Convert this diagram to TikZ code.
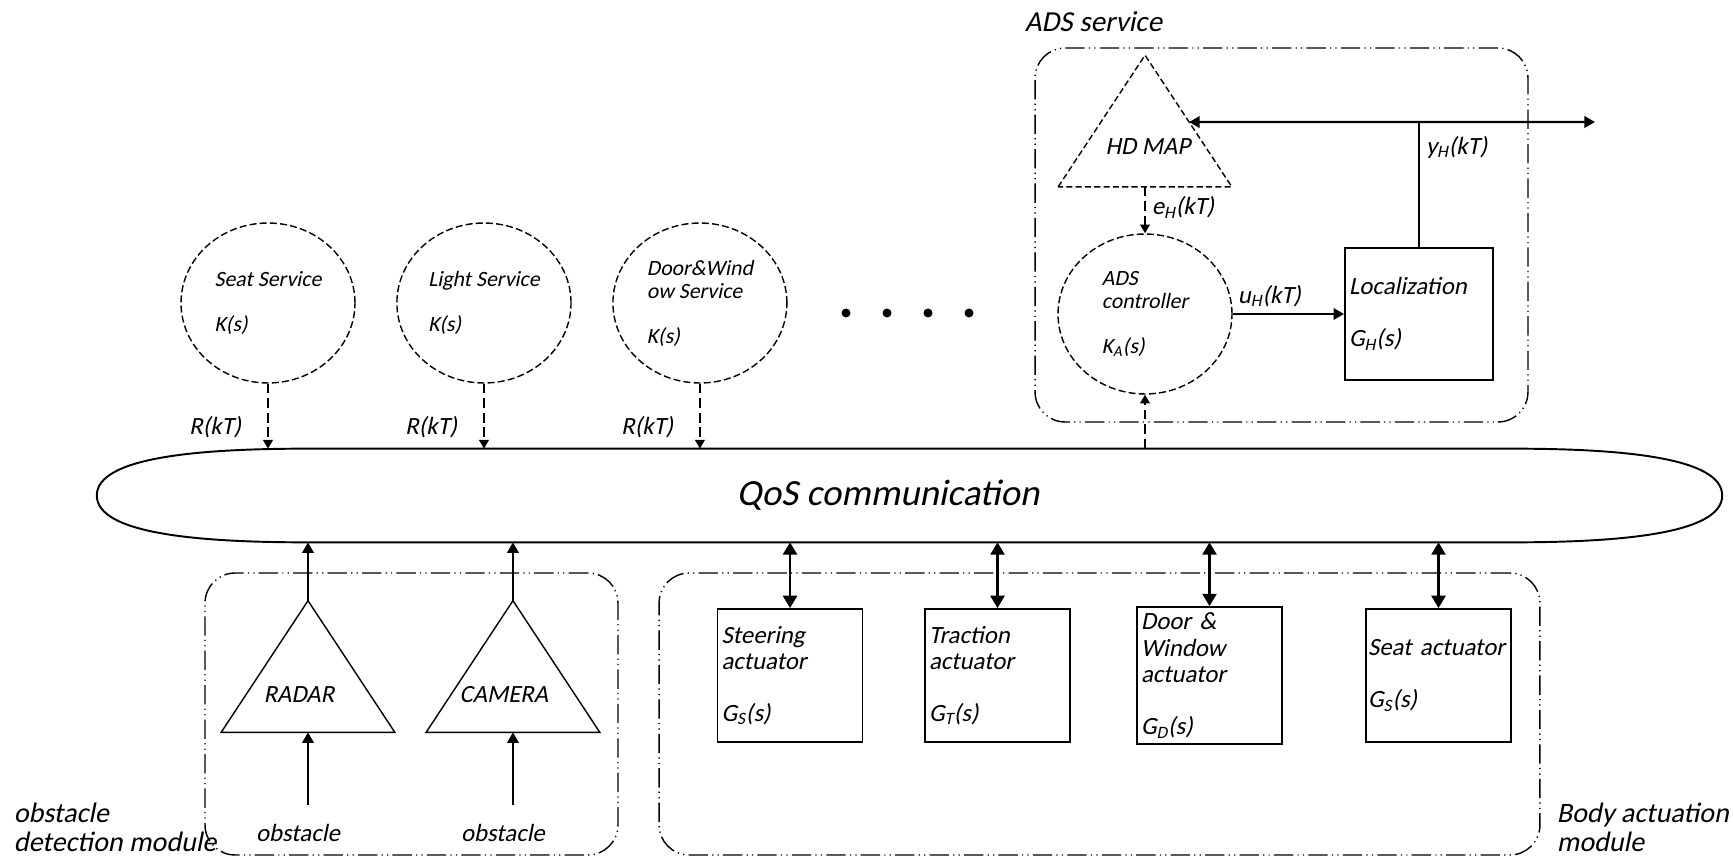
\documentclass[tikz,border=0pt]{standalone}
\usepackage{fontspec}
\setmainfont{Carlito}[FakeSlant=0.2]
\usepackage{tikz}
\usetikzlibrary{arrows.meta,calc,positioning,shapes.geometric}
\tikzset{%
	service/.style  = {draw, ellipse, dash pattern=on 4pt off 1.8pt, line width=0.8pt, minimum width=3.48cm, minimum height=3.2cm, align=left, font=\fontsize{12.4}{13.2}\selectfont}, % controller
	actuator/.style = {draw, rectangle, line width=1.1pt, minimum width=2.9cm, minimum height=2.66cm, inner xsep=0.08cm, text width=2.74cm, align=left}, % plant
	sensor/.style   = {rectangle, minimum width=3.46cm, minimum height=2.62cm, inner sep=0pt}, % triangle frame
	module/.style   = {draw, rectangle, rounded corners=0.6cm, line width=0.8pt, dash pattern=on 11pt off 2.4pt on 0.7pt off 2.4pt on 0.7pt off 2.4pt}, % dash-dot frame
	bus/.style      = {rectangle, minimum width=32.5cm, minimum height=1.86cm}, % QoS
	lbl/.style      = {inner sep=2pt}, % text
	sig/.style      = {->, line width=1.3pt}, % solid signal
	req/.style      = {-{Triangle[length=5pt,width=5.5pt]}, line width=1.1pt, dash pattern=on 5.5pt off 2.8pt}, % dashed signal
	dbl/.style      = {{Triangle[length=7pt,width=8pt]}-{Triangle[length=7pt,width=8pt]}, line width=1.3pt}, % two-way
}
\begin{document}
\begin{tikzpicture}[x=0.02cm, y=-0.02cm, >={Triangle[length=6pt,width=6.5pt]},
	every node/.append style={font=\fontsize{14.1}{15}\selectfont}]
		\useasboundingbox (0,0) rectangle (1733,857);
		% module frames
		\node[module, minimum width=9.86cm, minimum height=7.48cm] (adsbox) at (1281.5,235) {};
		\node[module, minimum width=8.26cm, minimum height=5.64cm] (obsbox) at (411.5,714) {};
		\node[module, minimum width=17.62cm, minimum height=5.64cm] (bodybox) at (1099.5,714) {};
		\node[lbl, anchor=west, font=\fontsize{16.5}{16.5}\selectfont] (adslbl) at (1021,22) {ADS service};
		\node[lbl, anchor=west, align=left, font=\fontsize{16}{16.5}\selectfont] (obslbl) at (10,827) {obstacle\\detection module};
		\node[lbl, anchor=west, align=left, font=\fontsize{16}{16.5}\selectfont] (bodylbl) at (1553,827) {Body actuation\\module};
		% QoS bus
		\node[bus] (qos) at (909.5,495.5) {};
		\node[lbl, font=\fontsize{21}{24}\selectfont] (qostxt) at (888,495) {QoS communication};
		\draw[line width=1.1pt] (qos.west) .. controls +(0,-38) and +(-110,0) .. ($(qos.north west)+(210,0)$)
			-- ($(qos.north east)+(-210,0)$) .. controls +(110,0) and +(0,-38) .. (qos.east)
			.. controls +(0,38) and +(110,0) .. ($(qos.south east)+(-210,0)$)
			-- ($(qos.south west)+(210,0)$) .. controls +(-110,0) and +(0,38) .. (qos.west) -- cycle;
		% services
		\node[service] (seat) at (268,303) {Seat Service\\[12.3pt]K(s)};
		\node[service, right of=seat, node distance=4.32cm] (light) {Light Service\\[12.3pt]K(s)};
		\node[service, right of=light, node distance=4.32cm] (door) {Door\&Wind\\ow Service\\[12.3pt]K(s)};
		\foreach \x in {846,887,928,969}
			\fill (\x,313) circle (0.09cm);
		\foreach \s in {seat,light,door}
			\draw[req] (\s.south) -- (\s.south |- qos.north) node[left=0.4cm, pos=0.67] (r\s) {R(kT)};
		% ADS service
		\node[sensor] (hdmap) at (1145,121) {};
		\draw[line width=0.8pt, dash pattern=on 3.5pt off 1.8pt] (hdmap.south west) -- (hdmap.north) -- (hdmap.south east) -- cycle;
		\node[lbl] (hdmaptxt) at ($(hdmap.center)+(3,26)$) {HD MAP};
		\node[service] (adsc) at (1145,314) {ADS\\controller\\[12.3pt]K\textsubscript{A}(s)};
		\node[actuator, minimum width=2.96cm, minimum height=2.64cm, text width=2.8cm] (loc) at (1419,314) {Localization\\[14.4pt]G\textsubscript{H}(s)};
		\coordinate (yout) at (1595,122);
		\coordinate (mapin) at ($(hdmap.north)!0.508!(hdmap.south east)$);
		\draw[req] (hdmap.south) -- node[right, pos=0.45] (eh) {e\textsubscript{H}(kT)} (adsc.north);
		\draw[sig] (adsc.east) -- node[above, pos=0.33] (uh) {u\textsubscript{H}(kT)} (loc.west);
		\draw[line width=1.3pt] (loc.north) -- node[right, pos=0.8] (yh) {y\textsubscript{H}(kT)} (loc.north |- yout);
		\draw[line width=1.3pt, <->] (mapin) -- (yout);
		\draw[req] (adsc.south |- qos.north) -- (adsc.south);
		% obstacle detection
		\node[sensor] (radar) at (308,666.5) {};
		\node[sensor, right of=radar, node distance=4.1cm] (camera) {};
		\foreach \s/\t in {radar/RADAR,camera/CAMERA} {
			\draw[line width=0.8pt] (\s.south west) -- (\s.north) -- (\s.south east) -- cycle;
			\node[lbl] (\s txt) at ($(\s.center)+(-9,28)$) {\t};
			\coordinate (\s in) at ($(\s.south)+(0,73)$);
			\node[lbl] (\s obs) at ($(\s in)+(-10,28)$) {obstacle};
			\draw[sig] (\s in) -- (\s.south);
			\draw[sig] (\s.north) -- (\s.north |- qos.south);
		}
		% body actuation
		\node[actuator] (steer) at (790,675.5) {Steering\\actuator\\[14.4pt]G\textsubscript{S}(s)};
		\node[actuator] (trac) at (997.5,675.5) {Traction\\actuator\\[14.4pt]G\textsubscript{T}(s)};
		\node[actuator] (dwact) at (1209.5,675.5) {Door \&\\Window\\actuator\\[14.4pt]G\textsubscript{D}(s)};
		\node[actuator, inner xsep=0.04cm, text width=2.82cm] (seatact) at (1438.5,675.5) {\mbox{Seat actuator}\\[14.4pt]G\textsubscript{S}(s)};
		\foreach \a in {steer,trac,dwact,seatact}
			\draw[dbl] (\a.north |- qos.south) -- (\a.north);
\end{tikzpicture}
\end{document}
